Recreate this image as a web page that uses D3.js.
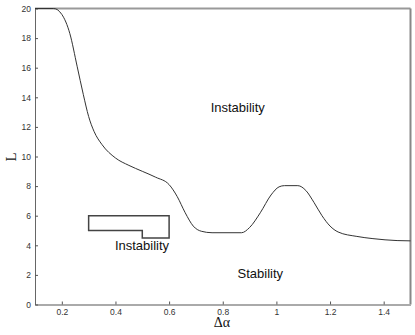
<!DOCTYPE html>
<html><head><meta charset="utf-8">
<script src="https://cdn.jsdelivr.net/npm/d3@7"></script>
<style>body{margin:0;background:#fff;}svg{display:block;}</style>
</head><body>
<script>
const curveX = [0.10,0.17,0.20,0.23,0.257,0.28,0.30,0.32,0.35,0.40,0.45,0.50,0.55,0.60,0.63,0.66,0.69,0.72,0.76,0.87,0.90,0.94,0.98,1.01,1.03,1.08,1.11,1.14,1.17,1.20,1.23,1.30,1.36,1.45,1.50];
const curveL = [20,20,19.6,18.3,16.1,14.2,12.7,11.7,10.8,9.9,9.4,9.0,8.6,8.1,7.3,6.2,5.3,4.95,4.85,4.85,5.2,6.2,7.4,7.95,8.03,8.03,7.7,6.9,6.0,5.3,4.9,4.6,4.45,4.32,4.3];
const boxX = [0.3,0.6,0.6,0.5,0.5,0.3];
const boxL = [6,6,4.5,4.5,5,5];
const xTicks = [0.2,0.4,0.6,0.8,1,1.2,1.4];
const yTicks = [0,2,4,6,8,10,12,14,16,18,20];
const labels = ["Instability","Instability","Stability"];
const labelX = [0.856,0.499,0.94];
const labelL = [13.03,3.65,1.8];

const W=415,H=335;
const svg=d3.select("body").append("svg").attr("width",W).attr("height",H);
const x=d3.scaleLinear().domain([0.1,1.5]).range([35,410.5]);
const y=d3.scaleLinear().domain([0,20]).range([304.5,8.5]);

// frame
svg.append("line").attr("x1",x(0.1)).attr("x2",x(1.5)).attr("y1",y(20)).attr("y2",y(20)).attr("stroke","#999").attr("stroke-width",2);
svg.append("line").attr("x1",x(1.5)).attr("x2",x(1.5)).attr("y1",y(20)).attr("y2",y(0)).attr("stroke","#888").attr("stroke-width",2);

const xa=svg.append("g").attr("transform",`translate(0,${y(0)})`)
  .call(d3.axisBottom(x).tickValues(xTicks).tickFormat(d3.format("")).tickSizeInner(-3).tickSizeOuter(0).tickPadding(4));
xa.select(".domain").attr("stroke","#aaa").attr("stroke-width",2);
xa.selectAll(".tick line").attr("stroke","#555");
xa.selectAll("text").attr("font-family","Liberation Sans, Arial, sans-serif").attr("font-size",8.5).attr("fill","#333");

const ya=svg.append("g").attr("transform",`translate(${x(0.1)},0)`)
  .call(d3.axisLeft(y).tickValues(yTicks).tickFormat(d3.format("")).tickSizeInner(-3).tickSizeOuter(0).tickPadding(4));
ya.select(".domain").attr("stroke","#666").attr("stroke-width",1);
ya.selectAll(".tick line").attr("stroke","#555");
ya.selectAll("text").attr("font-family","Liberation Sans, Arial, sans-serif").attr("font-size",8.5).attr("fill","#333");

// curve
const pts=curveX.map((d,i)=>[d,curveL[i]]);
svg.append("path").attr("d",d3.line().x(d=>x(d[0])).y(d=>y(d[1])).curve(d3.curveMonotoneX)(pts))
  .attr("fill","none").attr("stroke","#333").attr("stroke-width",1);

// box
const bpts=boxX.map((d,i)=>[d,boxL[i]]);
svg.append("path").attr("d",d3.line().x(d=>x(d[0])).y(d=>y(d[1])).curve(d3.curveLinearClosed)(bpts))
  .attr("fill","none").attr("stroke","#444").attr("stroke-width",1.5);

// labels
labels.forEach((t,i)=>{
  svg.append("text").attr("x",x(labelX[i])).attr("y",y(labelL[i])).attr("text-anchor","middle")
    .attr("font-family","Liberation Sans, Arial, sans-serif").attr("font-size",13).attr("fill","#111").text(t);
});

svg.append("text").attr("transform","translate(16,157) rotate(-90)").attr("text-anchor","middle")
  .attr("font-family","Liberation Serif, Times New Roman, serif").attr("font-size",15).attr("fill","#111").text("L");
svg.append("text").attr("x",222).attr("y",327).attr("text-anchor","middle")
  .attr("font-family","Liberation Serif, Times New Roman, serif").attr("font-size",14).attr("fill","#111").text("Δα");
</script>
</body></html>
